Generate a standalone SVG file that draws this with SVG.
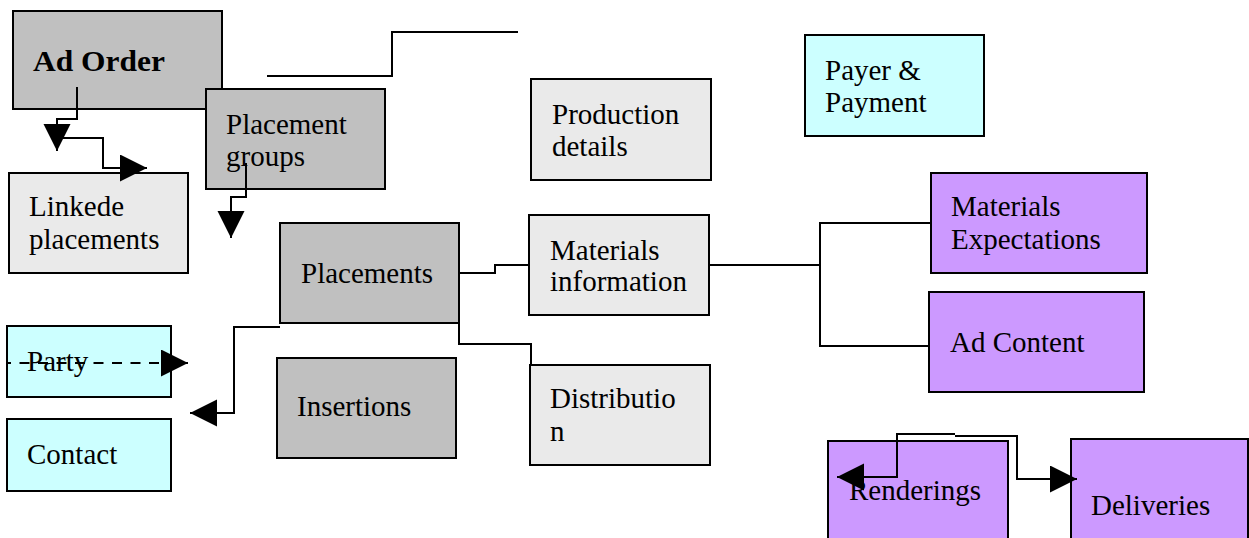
<svg xmlns="http://www.w3.org/2000/svg" width="1249" height="538" viewBox="0 0 1249 538">
<style>
.box{stroke:#000;stroke-width:2}
.g{fill:#c0c0c0}
.l{fill:#eaeaea}
.c{fill:#ccffff}
.p{fill:#cc99ff}
text{font-family:"Liberation Serif","Times New Roman",serif;font-size:29px;fill:#000}
.b{font-weight:bold;font-size:30px}
.conn path{fill:none;stroke:#000;stroke-width:2}
.conn .arr{marker-end:url(#ah)}
.conn .dash{stroke-dasharray:10 8.5;stroke-dashoffset:6}
</style>
<defs>
<marker id="ah" markerUnits="userSpaceOnUse" markerWidth="28" markerHeight="28" refX="27" refY="13.5" orient="auto" viewBox="0 0 28 28">
<path d="M0,0 L27,13.5 L0,27 Z" fill="#000" stroke="none"/>
</marker>
</defs>
<rect width="1249" height="538" fill="#fff"/>
<g id="ad-order"><rect class="box g" x="13" y="11" width="209" height="98"/><text class="b" x="33" y="71" textLength="132" lengthAdjust="spacingAndGlyphs">Ad Order</text></g>
<g id="placement-groups"><rect class="box g" x="206" y="89" width="179" height="100"/><text x="226" y="134">Placement</text><text x="226" y="166">groups</text></g>
<g id="linkede-placements"><rect class="box l" x="9" y="173" width="179" height="100"/><text x="29" y="216">Linkede</text><text x="29" y="249">placements</text></g>
<g id="production-details"><rect class="box l" x="531" y="79" width="180" height="101"/><text x="552" y="124">Production</text><text x="552" y="156">details</text></g>
<g id="payer-payment"><rect class="box c" x="805" y="35" width="179" height="101"/><text x="825" y="80">Payer &amp;</text><text x="825" y="112">Payment</text></g>
<g id="placements"><rect class="box g" x="280" y="223" width="179" height="100"/><text x="301" y="283">Placements</text></g>
<g id="materials-information"><rect class="box l" x="529" y="215" width="180" height="100"/><text x="550" y="260">Materials</text><text x="550" y="291">information</text></g>
<g id="materials-expectations"><rect class="box p" x="931" y="173" width="216" height="100"/><text x="951" y="216">Materials</text><text x="951" y="249">Expectations</text></g>
<g id="ad-content"><rect class="box p" x="929" y="292" width="215" height="100"/><text x="950" y="352">Ad Content</text></g>
<g id="party"><rect class="box c" x="7" y="326" width="164" height="71"/><text x="27" y="371">Party</text></g>
<g id="contact"><rect class="box c" x="7" y="419" width="164" height="72"/><text x="27" y="464">Contact</text></g>
<g id="insertions"><rect class="box g" x="277" y="358" width="179" height="100"/><text x="297" y="416">Insertions</text></g>
<g id="distribution"><rect class="box l" x="530" y="365" width="180" height="100"/><text x="550" y="408">Distributio</text><text x="550" y="441">n</text></g>
<g id="renderings"><rect class="box p" x="828" y="441" width="180" height="110"/><text x="849" y="500">Renderings</text></g>
<g id="deliveries"><rect class="box p" x="1071" y="439" width="177" height="110"/><text x="1091" y="515">Deliveries</text></g>
<g id="connectors" class="conn">
<path class="arr" d="M77,87 V119 H57 V151"/>
<path class="arr" d="M62,138 H103 V168 H147"/>
<path class="arr" d="M246,163 V197 H231 V238"/>
<path d="M267,76 H392 V32 H518"/>
<path d="M459,273 H495 V265 H529"/>
<path d="M459,323 V344 H531 V365"/>
<path d="M709,265 H820"/>
<path d="M931,223 H820 V346 H929"/>
<path class="arr" d="M280,327 H234 V413 H190"/>
<path class="arr dash" d="M7,363 H188"/>
<path class="arr" d="M955,434 H897 V477 H837"/>
<path class="arr" d="M955,436 H1017 V479 H1077"/>
</g>
</svg>
